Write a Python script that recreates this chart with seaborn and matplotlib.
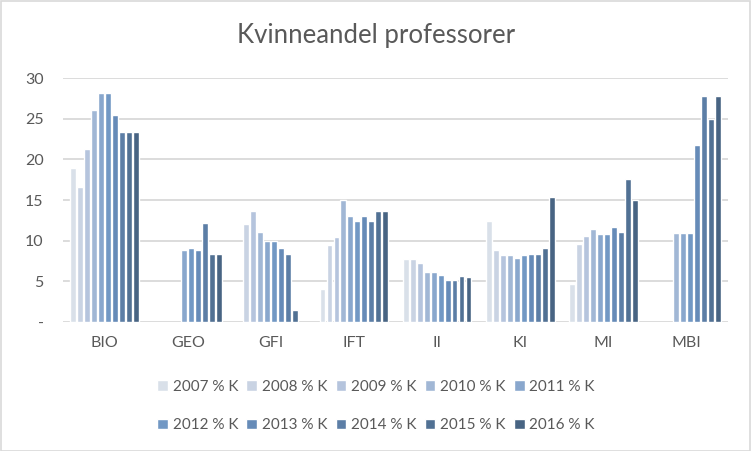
import numpy as np
import pandas as pd
import matplotlib
matplotlib.use("Agg")
import matplotlib.pyplot as plt
import seaborn as sns

categories = ["BIO", "GEO", "GFI", "IFT", "II", "KI", "MI", "MBI"]
years = ["2007 % K", "2008 % K", "2009 % K", "2010 % K", "2011 % K",
         "2012 % K", "2013 % K", "2014 % K", "2015 % K", "2016 % K"]
nan = np.nan
v2007 = [18.9, nan, nan, 4.0, 7.7, 12.4, 4.7, nan]
v2008 = [16.6, nan, 12.1, 9.5, 7.7, 8.9, 9.6, nan]
v2009 = [21.3, nan, 13.7, 10.5, 7.2, 8.2, 10.6, nan]
v2010 = [26.1, nan, 11.1, 15.0, 6.2, 8.2, 11.4, 10.9]
v2011 = [28.1, 8.8, 10.0, 13.0, 6.2, 7.9, 10.8, 10.9]
v2012 = [28.1, 9.1, 10.0, 12.4, 5.8, 8.2, 10.8, 10.9]
v2013 = [25.4, 8.9, 9.1, 13.0, 5.2, 8.3, 11.7, 21.8]
v2014 = [23.3, 12.2, 8.3, 12.4, 5.2, 8.3, 11.1, 27.8]
v2015 = [23.4, 8.3, 1.5, 13.7, 5.6, 9.1, 17.6, 25.0]
v2016 = [23.4, 8.3, nan, 13.7, 5.5, 15.4, 15.0, 27.8]
series = [v2007, v2008, v2009, v2010, v2011, v2012, v2013, v2014, v2015, v2016]

ytick_vals = [0, 5, 10, 15, 20, 25, 30]
ytick_labels = ["-", "5", "10", "15", "20", "25", "30"]

colors = ["#D6DFEC", "#C4D2E8", "#AFC3E3", "#98B5DE", "#7EA6D8",
          "#6497D2", "#588AC6", "#4F7DB3", "#46709F", "#3E638D"]

rows = []
for yr, vals in zip(years, series):
    for cat, v in zip(categories, vals):
        if not np.isnan(v):
            rows.append({"Institutt": cat, "År": yr, "Andel": v})
df = pd.DataFrame(rows)

sns.set_theme(style="white")
plt.rcParams["font.family"] = ["Lato", "DejaVu Sans"]

fig = plt.figure(figsize=(7.52, 4.51), dpi=100)
ax = fig.add_axes([63 / 752, 1 - 322 / 451, 665 / 752, 244 / 451])

sns.barplot(data=df, x="Institutt", y="Andel", hue="År", order=categories,
            hue_order=years, palette=colors, width=0.84, gap=0.15,
            errorbar=None, ax=ax, zorder=3)

ax.set_ylim(0, 30)
ax.set_xlim(-0.5, len(categories) - 0.5)
ax.set_yticks(ytick_vals)
ax.set_yticklabels(ytick_labels)
ax.yaxis.grid(True, color="#D9D9D9", linewidth=1.3, zorder=0)
ax.set_axisbelow(True)
for s in ax.spines.values():
    s.set_visible(False)
ax.tick_params(axis="both", length=0, colors="#595959", labelsize=11.5)
ax.tick_params(axis="y", pad=14)
ax.tick_params(axis="x", pad=10)
for lab in ax.get_yticklabels():
    lab.set_horizontalalignment("right")
ax.set_xlabel("")
ax.set_ylabel("")

fig.text(0.5, 1 - 36 / 451, "Kvinneandel professorer", ha="center", va="center",
         fontsize=18.5, color="#595959")

handles, labels = ax.get_legend_handles_labels()
ax.get_legend().remove()
order = [0, 5, 1, 6, 2, 7, 3, 8, 4, 9]
leg = fig.legend([handles[i] for i in order], [labels[i] for i in order],
                 loc="center", bbox_to_anchor=(0.5, 1 - 406 / 451), ncol=5,
                 frameon=False, fontsize=11, handlelength=0.7, handleheight=0.7,
                 handletextpad=0.3, columnspacing=0.55, labelspacing=1.6,
                 labelcolor="#595959")

border = plt.Rectangle((0.001, 0.001), 0.997, 0.997, transform=fig.transFigure,
                       fill=False, edgecolor="#D9D9D9", linewidth=1.2)
fig.patches.append(border)

fig.savefig("out.png", dpi=100)
